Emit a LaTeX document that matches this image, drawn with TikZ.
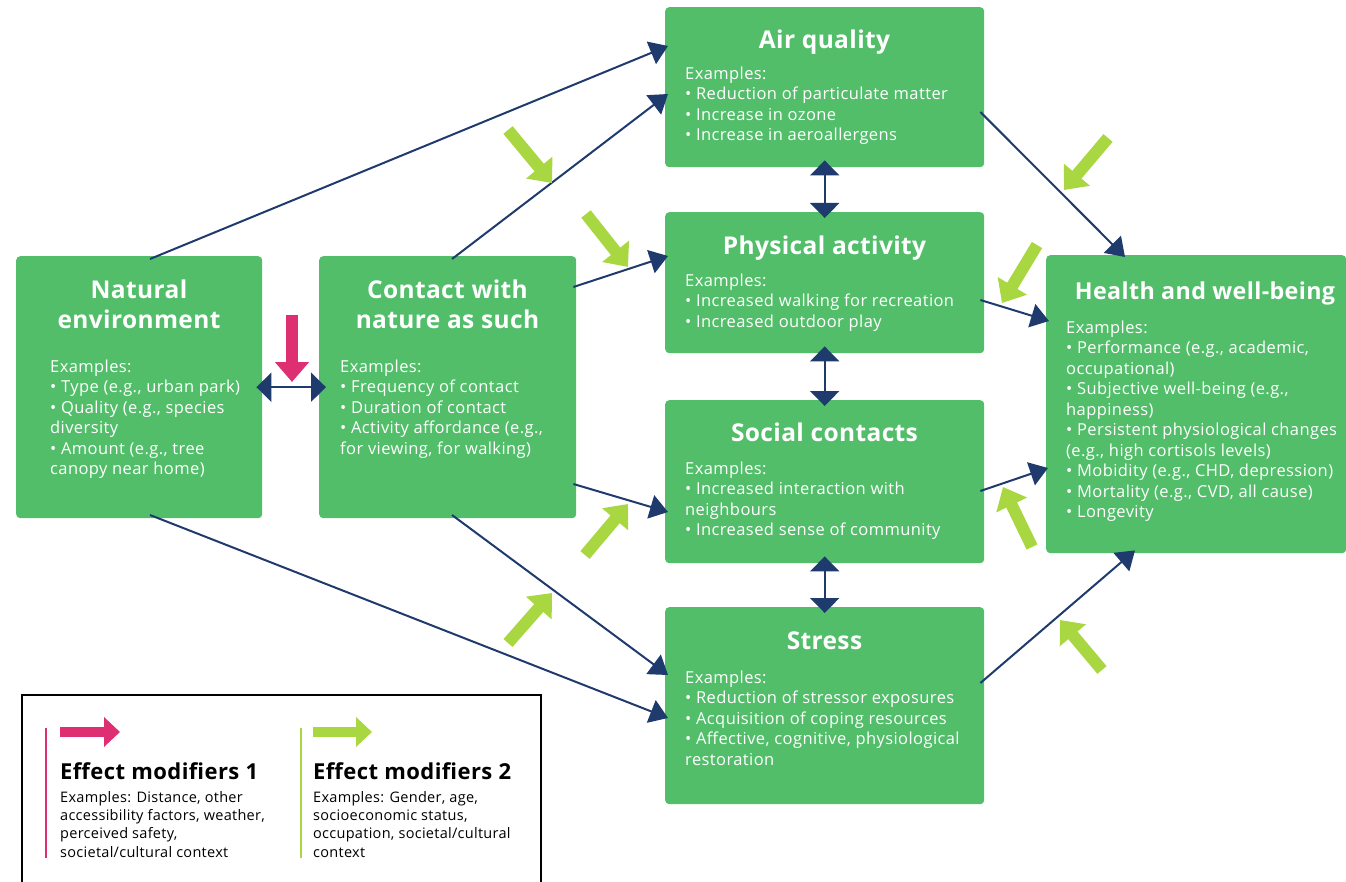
\documentclass[tikz,border=0pt]{standalone}
\usepackage{fontspec}
\setmainfont{Open Sans}
\newfontfamily\bodyfont{Open Sans}[LetterSpace=2.5]
\newfontfamily\titlefont{Open Sans}[LetterSpace=1.5]
\newfontfamily\legfont{Open Sans}[LetterSpace=2.0]
\usetikzlibrary{arrows.meta,calc}
\definecolor{boxgreen}{RGB}{82,190,106}
\definecolor{navy}{RGB}{31,58,109}
\definecolor{lime}{RGB}{168,215,66}
\definecolor{modpink}{RGB}{222,47,114}
\newcommand{\tstrut}{\rule{0pt}{22pt}}
\newcommand{\bstrut}{\rule{0pt}{13pt}}
\newcommand{\lstrut}{\rule{0pt}{12pt}}
\begin{document}
\begin{tikzpicture}[x=1pt,y=-1pt,
 box/.style={draw=none, fill=boxgreen, rounded corners=4pt, inner sep=0pt, anchor=north west},
 ttl/.style={text=white, font=\titlefont\fontsize{24.5}{30}\selectfont\bfseries, align=center, anchor=north, inner sep=0pt},
 bdy/.style={text=white, font=\bodyfont\fontsize{16.5}{20.5}\selectfont, align=left, anchor=north west, inner sep=0pt},
 conn/.style={draw=navy, line width=2pt, -{Triangle[length=18pt,width=24pt]}},
 dbl/.style={draw=navy, line width=2pt, {Triangle[length=15pt,width=29pt]}-{Triangle[length=15pt,width=29pt]}},
 modarrow/.style={line width=12pt, -{Triangle[length=20pt,width=33pt]}},
 legarrow/.style={line width=10pt, -{Triangle[length=16pt,width=29pt]}},
 legttl/.style={text=black, font=\legfont\fontsize{22}{26}\selectfont\bfseries, anchor=base west, inner sep=0pt},
 legbdy/.style={text=black, font=\legfont\fontsize{14.5}{18.3}\selectfont, align=left, anchor=north west, inner sep=0pt},
]
\useasboundingbox (0,0) rectangle (1346,882);

% boxes
\node[box, minimum width=246pt, minimum height=262pt] (nat) at (16,256) {};
\node[box, minimum width=257pt, minimum height=262pt] (con) at (319,256) {};
\node[box, minimum width=319pt, minimum height=160pt] (air) at (665,7) {};
\node[box, minimum width=319pt, minimum height=141pt] (phy) at (665,212) {};
\node[box, minimum width=319pt, minimum height=163pt] (soc) at (665,400) {};
\node[box, minimum width=319pt, minimum height=197pt] (str) at (665,607) {};
\node[box, minimum width=300pt, minimum height=298pt] (hw) at (1046,255) {};

% titles
\node[ttl] (natT) at (139,276) {\tstrut Natural\\environment};
\node[ttl] (conT) at (447.5,276) {\tstrut Contact with\\nature as such};
\node[ttl] (airT) at (824.5,26) {\tstrut Air quality};
\node[ttl] (phyT) at (824.5,232) {\tstrut Physical activity};
\node[ttl] (socT) at (824.5,419) {\tstrut Social contacts};
\node[ttl] (strT) at (824.5,627) {\tstrut Stress};
\node[ttl, font=\titlefont\fontsize{23.3}{30}\selectfont\bfseries] (hwT) at (1205,277) {\tstrut Health and well-being};

% bodies
\node[bdy] (natB) at (50,359) {\bstrut Examples:\\• Type (e.g., urban park)\\• Quality (e.g., species\\diversity\\• Amount (e.g., tree\\canopy near home)};
\node[bdy] (conB) at (340,359) {\bstrut Examples:\\• Frequency of contact\\• Duration of contact\\• Activity affordance (e.g.,\\for viewing, for walking)};
\node[bdy] (airB) at (685,66) {\bstrut Examples:\\• Reduction of particulate matter\\• Increase in ozone\\• Increase in aeroallergens};
\node[bdy] (phyB) at (685,273) {\bstrut Examples:\\• Increased walking for recreation\\• Increased outdoor play};
\node[bdy] (socB) at (685,461) {\bstrut Examples:\\• Increased interaction with\\neighbours\\• Increased sense of community};
\node[bdy] (strB) at (685,670) {\bstrut Examples:\\• Reduction of stressor exposures\\• Acquisition of coping resources\\• Affective, cognitive, physiological\\restoration};
\node[bdy] (hwB) at (1066,320) {\bstrut Examples:\\• Performance (e.g., academic,\\occupational)\\• Subjective well-being (e.g.,\\happiness)\\• Persistent physiological changes\\(e.g., high cortisols levels)\\• Mobidity (e.g., CHD, depression)\\• Mortality (e.g., CVD, all cause)\\• Longevity};

% connectors
\draw[conn] ($(nat.north west)+(134,3)$) -- ($(air.north west)+(3,39)$);
\draw[conn] ($(con.north west)+(133,3)$) -- ($(air.north west)+(3,87)$);
\draw[conn] ($(con.north east)+(-3,31)$) -- ($(phy.north west)+(3,44)$);
\draw[conn] ($(con.north east)+(-3,228)$) -- ($(soc.north west)+(3,112)$);
\draw[conn] ($(con.north west)+(133,259)$) -- ($(str.north west)+(3,68)$);
\draw[conn] ($(nat.north west)+(134,259)$) -- ($(str.north west)+(3,111)$);
\draw[conn] ($(air.north east)+(-4,105)$) -- ($(hw.north west)+(79,2)$);
\draw[conn] ($(phy.north east)+(-4,88)$) -- ($(hw.north west)+(3,66)$);
\draw[conn] ($(soc.north east)+(-4,91)$) -- ($(hw.north west)+(2,213)$);
\draw[conn] ($(str.north east)+(-4,76)$) -- ($(hw.south west)+(89,-3)$);

\draw[dbl] ($(nat.east)+(-6,0)$) -- ($(con.west)+(7,0)$);
\draw[dbl] ($(air.south)+(0,-7)$) -- ($(phy.north)+(0,6)$);
\draw[dbl] ($(phy.south)+(0,-7)$) -- ($(soc.north)+(0,6)$);
\draw[dbl] ($(soc.south)+(0,-7)$) -- ($(str.north)+(0,6)$);

% effect modifier arrows
\draw[modarrow, modpink] (292,315) -- (292,382);
\draw[modarrow, lime] (508,130) -- (552,183);
\draw[modarrow, lime] (586,214) -- (628,267);
\draw[modarrow, lime] (1108,138) -- (1064,190);
\draw[modarrow, lime] (1037,245) -- (1002,303);
\draw[modarrow, lime] (585,555) -- (628,504);
\draw[modarrow, lime] (508,643) -- (552,593);
\draw[modarrow, lime] (1032,547) -- (1003,487);
\draw[modarrow, lime] (1102,670) -- (1060,620);

% legend
\draw[line width=2.5pt, black] (22,884) -- (22,695) -- (541,695) -- (541,884);
\draw[modpink, line width=2.5pt] (46,728) -- (46,858);
\draw[lime, line width=2.5pt] (301,728) -- (301,858);
\draw[legarrow, modpink] (60,732) -- (120,732);
\draw[legarrow, lime] (313,732) -- (372,732);
\node[legttl] (l1T) at (60,779) {Effect modifiers 1};
\node[legttl] (l2T) at (313,779) {Effect modifiers 2};
\node[legbdy] (l1B) at (60,790) {\lstrut Examples: Distance, other\\accessibility factors, weather,\\perceived safety,\\societal/cultural context};
\node[legbdy] (l2B) at (313,790) {\lstrut Examples: Gender, age,\\socioeconomic status,\\occupation, societal/cultural\\context};
\end{tikzpicture}
\end{document}
